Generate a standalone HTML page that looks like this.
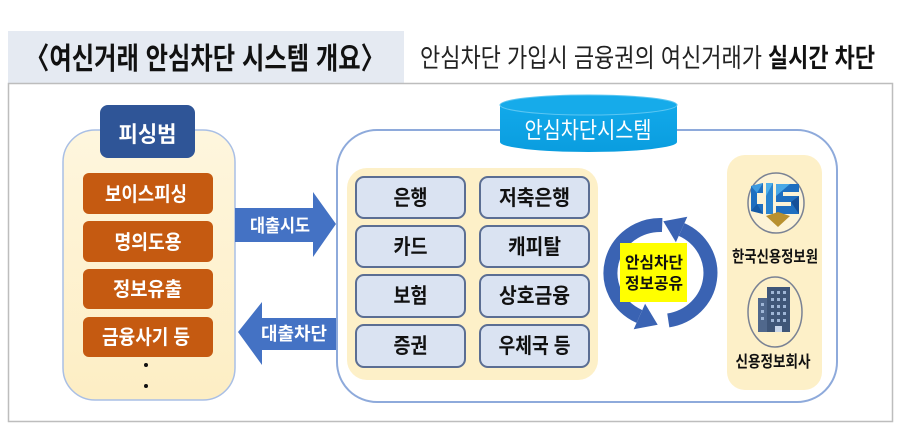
<!DOCTYPE html>
<html><head><meta charset="utf-8"><style>
html,body{margin:0;padding:0;background:#fff;}
svg{display:block;}
text{font-family:"Liberation Sans","Noto Sans CJK KR",sans-serif;}
</style></head><body>
<svg width="900" height="432" viewBox="0 0 900 432" xmlns="http://www.w3.org/2000/svg">
<rect x="0" y="0" width="900" height="432" fill="#fff"/>
<!-- title -->
<rect x="8" y="31" width="396" height="52" fill="#e5eaf2"/>
<text x="25" y="69" font-size="30" font-weight="bold" fill="#111" textLength="360" lengthAdjust="spacingAndGlyphs">〈여신거래 안심차단 시스템 개요〉</text>
<text x="420" y="67" font-size="26" fill="#222" textLength="342" lengthAdjust="spacingAndGlyphs">안심차단 가입시 금융권의 여신거래가</text>
<text x="768" y="67" font-size="26" font-weight="bold" fill="#111" textLength="107" lengthAdjust="spacingAndGlyphs">실시간 차단</text>
<!-- main frame -->
<rect x="8.5" y="83.5" width="884" height="338" fill="none" stroke="#bdbdbd" stroke-width="1.5"/>

<!-- left panel -->
<defs>
<linearGradient id="cream" x1="0" y1="0" x2="0" y2="1"><stop offset="0" stop-color="#fef6de"/><stop offset="1" stop-color="#fdeec4"/></linearGradient>
<linearGradient id="cyl" x1="0" y1="0" x2="0" y2="1"><stop offset="0" stop-color="#12a9ea"/><stop offset="1" stop-color="#0a9ddf"/></linearGradient>
</defs>
<rect x="63" y="130" width="172" height="270" rx="32" fill="url(#cream)" stroke="#a9bfe5" stroke-width="1.5"/>
<rect x="100" y="105" width="95" height="53" rx="8" fill="#2f5597"/>
<text x="147.5" y="142" font-size="22" font-weight="bold" fill="#fff" text-anchor="middle" textLength="58" lengthAdjust="spacingAndGlyphs">피싱범</text>

<g fill="#c55a11">
<rect x="83" y="173" width="130" height="41" rx="6"/>
<rect x="83" y="221" width="130" height="41" rx="6"/>
<rect x="83" y="269" width="130" height="40" rx="6"/>
<rect x="83" y="317" width="130" height="40" rx="6"/>
</g>
<g font-size="20" font-weight="bold" fill="#fff" text-anchor="middle">
<text x="146" y="201" textLength="82" lengthAdjust="spacingAndGlyphs">보이스피싱</text>
<text x="148" y="249" textLength="67" lengthAdjust="spacingAndGlyphs">명의도용</text>
<text x="147.5" y="296" textLength="69" lengthAdjust="spacingAndGlyphs">정보유출</text>
<text x="146" y="344" textLength="88" lengthAdjust="spacingAndGlyphs">금융사기 등</text>
</g>
<circle cx="146" cy="365" r="2" fill="#111"/>
<circle cx="146" cy="386" r="2" fill="#111"/>

<!-- arrows -->
<polygon points="235,208 313,208 313,192 336,224 313,257 313,242 235,242" fill="#4472c4"/>
<text x="280" y="232" font-size="18" font-weight="bold" fill="#fff" text-anchor="middle" textLength="60" lengthAdjust="spacingAndGlyphs">대출시도</text>
<polygon points="238,332 262,302 262,318 338,318 338,350 262,350 262,365" fill="#4472c4"/>
<text x="294" y="340" font-size="18" font-weight="bold" fill="#fff" text-anchor="middle" textLength="66" lengthAdjust="spacingAndGlyphs">대출차단</text>

<!-- big box -->
<rect x="337" y="130" width="500" height="272" rx="40" fill="#fff" stroke="#8eaadb" stroke-width="2"/>
<!-- cylinder -->
<path d="M500,105 L500,142 A88.5,10 0 0 0 677,142 L677,105 Z" fill="url(#cyl)"/>
<ellipse cx="588.5" cy="105" rx="88.5" ry="10" fill="#16abea" stroke="#5cc6f2" stroke-width="1"/>
<text x="588" y="138" font-size="23" fill="#fff" text-anchor="middle" textLength="127" lengthAdjust="spacingAndGlyphs">안심차단시스템</text>

<!-- inner cream panel -->
<rect x="347" y="168" width="251" height="212" rx="20" fill="#fdf0c8"/>
<g fill="#dae3f2" stroke="#5b6e93" stroke-width="2">
<rect x="356" y="177" width="109" height="41" rx="8"/>
<rect x="480" y="177" width="109" height="41" rx="8"/>
<rect x="356" y="226" width="109" height="41" rx="8"/>
<rect x="480" y="226" width="109" height="41" rx="8"/>
<rect x="356" y="275" width="109" height="42" rx="8"/>
<rect x="480" y="275" width="109" height="42" rx="8"/>
<rect x="356" y="325" width="109" height="42" rx="8"/>
<rect x="480" y="325" width="109" height="42" rx="8"/>
</g>
<g font-size="21" font-weight="bold" fill="#111" text-anchor="middle">
<text x="410.5" y="205" textLength="34" lengthAdjust="spacingAndGlyphs">은행</text>
<text x="534.5" y="205" textLength="71" lengthAdjust="spacingAndGlyphs">저축은행</text>
<text x="410.5" y="254" textLength="34" lengthAdjust="spacingAndGlyphs">카드</text>
<text x="534.5" y="254" textLength="53" lengthAdjust="spacingAndGlyphs">캐피탈</text>
<text x="410.5" y="303" textLength="34" lengthAdjust="spacingAndGlyphs">보험</text>
<text x="534.5" y="303" textLength="71" lengthAdjust="spacingAndGlyphs">상호금융</text>
<text x="410.5" y="353" textLength="34" lengthAdjust="spacingAndGlyphs">증권</text>
<text x="534.5" y="353" textLength="72" lengthAdjust="spacingAndGlyphs">우체국 등</text>
</g>

<!-- cycle arrows -->
<path d="M662.2,225 A50,48 0 0 0 639.4,316.5" fill="none" stroke="#3a63b3" stroke-width="14"/>
<polygon points="633.7,329.3 645.1,303.7 657.7,324.7" fill="#3a63b3"/>
<path d="M668.3,320.4 A50,48 0 0 0 681.6,229.5" fill="none" stroke="#3a63b3" stroke-width="14"/>
<polygon points="687.3,216.7 675.9,242.3 663.3,221.3" fill="#3a63b3"/>
<rect x="620" y="243" width="67" height="59" fill="#ffff00"/>
<g font-size="16" font-weight="bold" fill="#111" text-anchor="middle">
<text x="654" y="268" textLength="58" lengthAdjust="spacingAndGlyphs">안심차단</text>
<text x="654" y="289" textLength="58" lengthAdjust="spacingAndGlyphs">정보공유</text>
</g>

<!-- right cream panel -->
<rect x="727" y="155" width="95" height="235" rx="18" fill="#fdf0c8"/>
<ellipse cx="776" cy="203" rx="28" ry="30" fill="#fdf3d6" stroke="#7a8294" stroke-width="1.5"/>
<!-- CIS logo -->
<g>
<polygon points="751,186 763,183 763,193 757,193 757,204 763,204 763,214 751,211" fill="#1f6fc0"/>
<polygon points="751,186 763,183 757,193" fill="#3d9be0"/>
<polygon points="751,211 757,204 763,214" fill="#155aa6"/>
<polygon points="766,183 773,183 773,214 766,214" fill="#2a84d0"/>
<polygon points="766,183 773,183 766,196" fill="#4fb0ea"/>
<polygon points="776,184 799,184 799,192 783,192 783,196 799,196 799,214 776,214 776,206 791,206 791,202 776,202" fill="#1f6fc0"/>
<polygon points="776,184 790,184 776,196" fill="#4aa8e6"/>
<polygon points="791,202 799,196 799,214" fill="#164f98"/>
<polygon points="766,216 778,212 790,216 778,227" fill="#b8902f"/>
</g>
<text x="775" y="262" font-size="16" font-weight="bold" fill="#111" text-anchor="middle" textLength="86" lengthAdjust="spacingAndGlyphs">한국신용정보원</text>
<ellipse cx="775" cy="312" rx="27" ry="35" fill="#fdf0c8" stroke="#7a8294" stroke-width="1.5"/>
<!-- building -->
<g>
<rect x="758" y="298" width="12" height="34" fill="#50688c"/>
<rect x="767" y="287" width="23" height="45" fill="#3f5678"/>
<g fill="#9fb6d6">
<rect x="771" y="291" width="3" height="3"/><rect x="777" y="291" width="3" height="3"/><rect x="783" y="291" width="3" height="3"/>
<rect x="771" y="298" width="3" height="3"/><rect x="777" y="298" width="3" height="3"/><rect x="783" y="298" width="3" height="3"/>
<rect x="771" y="305" width="3" height="3"/><rect x="777" y="305" width="3" height="3"/><rect x="783" y="305" width="3" height="3"/>
<rect x="771" y="312" width="3" height="3"/><rect x="777" y="312" width="3" height="3"/><rect x="783" y="312" width="3" height="3"/>
<rect x="771" y="319" width="3" height="3"/><rect x="777" y="319" width="3" height="3"/><rect x="783" y="319" width="3" height="3"/>
<rect x="761" y="303" width="3" height="3"/><rect x="761" y="310" width="3" height="3"/><rect x="761" y="317" width="3" height="3"/>
</g>
<rect x="775" y="326" width="7" height="6" fill="#c8d6ea"/>
</g>
<text x="773" y="367" font-size="16" font-weight="bold" fill="#111" text-anchor="middle" textLength="75" lengthAdjust="spacingAndGlyphs">신용정보회사</text>
</svg>
</body></html>
